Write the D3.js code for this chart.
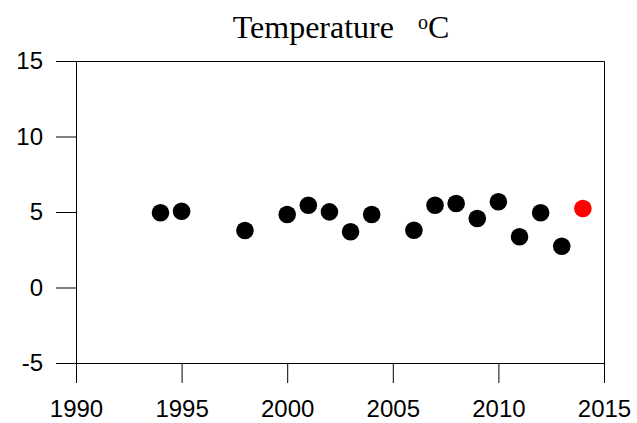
<!DOCTYPE html>
<html>
<head>
<meta charset="utf-8">
<script src="https://cdn.jsdelivr.net/npm/d3@7"></script>
<style>
  body { margin: 0; background: #fff; }
  .axis text { font-family: "Liberation Sans", Arial, sans-serif; font-size: 24px; fill: #000; }
  .axis path, .axis line { stroke: #000; stroke-width: 1px; }
</style>
</head>
<body>
<div id="chart"></div>
<script>
// data
const years = [1994, 1995, 1998, 2000, 2001, 2002, 2003, 2004, 2006, 2007, 2008, 2009, 2010, 2011, 2012, 2013, 2014];
const temps = [4.95, 5.05, 3.77, 4.83, 5.45, 5.01, 3.69, 4.83, 3.79, 5.45, 5.56, 4.57, 5.68, 3.36, 4.95, 2.73, 5.23];
const highlightYear = 2014;
const xTicks = [1990, 1995, 2000, 2005, 2010, 2015];
const yTicks = [-5, 0, 5, 10, 15];

const data = years.map((y, i) => ({ year: y, temp: temps[i] }));

const width = 637, height = 423;
const margin = { top: 61, right: 33, bottom: 60, left: 76 };

const svg = d3.select("#chart")
  .append("svg")
  .attr("width", width)
  .attr("height", height);

const x = d3.scaleLinear()
  .domain([1990, 2015])
  .range([margin.left, width - margin.right]);

const y = d3.scaleLinear()
  .domain([-5, 15])
  .range([height - margin.bottom, margin.top]);

// title
const title = svg.append("text")
  .attr("x", 341)
  .attr("y", 38)
  .attr("text-anchor", "middle")
  .style("font-family", "'Liberation Serif', 'Times New Roman', serif")
  .style("font-size", "32px")
  .style("fill", "#000");
title.append("tspan").text("Temperature\u00a0\u00a0\u00a0");
title.append("tspan").attr("dy", "-0.45em").style("font-size", "20px").text("o");
title.append("tspan").attr("dy", "0.28em").text("C");

// axes (plain hyphen for negatives, like the original)
svg.append("g")
  .attr("class", "axis")
  .attr("transform", `translate(0,${height - margin.bottom})`)
  .call(d3.axisBottom(x).tickValues(xTicks).tickFormat(d => String(d))
    .tickSize(20).tickSizeOuter(0).tickPadding(17));

svg.append("g")
  .attr("class", "axis")
  .attr("transform", `translate(${margin.left},0)`)
  .call(d3.axisLeft(y).tickValues(yTicks).tickFormat(d => String(d))
    .tickSize(20).tickSizeOuter(0).tickPadding(13));

// frame: top and right
svg.append("path")
  .attr("d", `M${x(1990) + 0.5},${y(15) + 0.5}H${x(2015) + 0.5}V${y(-5) + 0.5}`)
  .attr("fill", "none")
  .attr("stroke", "#000");

// points
svg.append("g")
  .selectAll("circle")
  .data(data)
  .enter()
  .append("circle")
  .attr("cx", d => x(d.year))
  .attr("cy", d => y(d.temp))
  .attr("r", 8.8)
  .attr("fill", d => d.year === highlightYear ? "#ff0000" : "#000");
</script>
</body>
</html>
